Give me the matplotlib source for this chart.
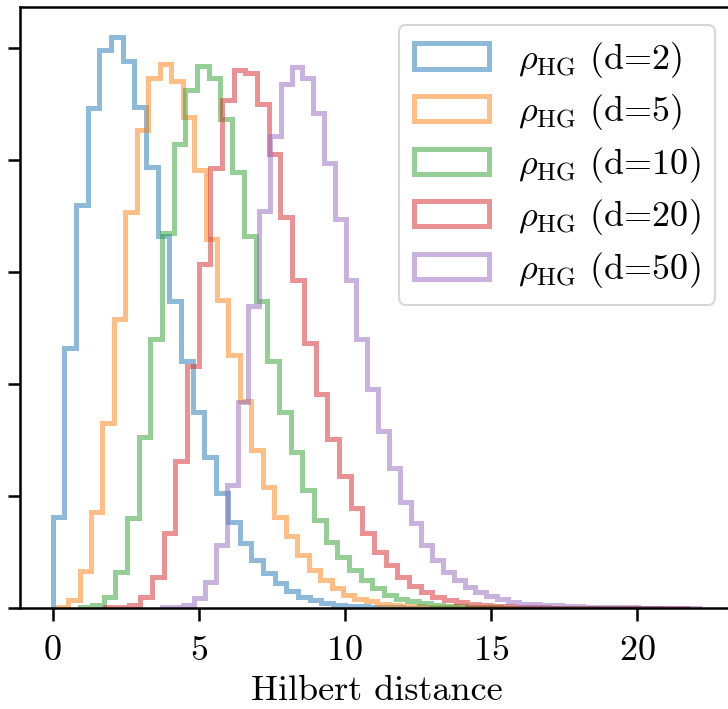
import numpy as np
import matplotlib.pyplot as plt

plt.rcParams['font.family'] = 'serif'
plt.rcParams['font.serif'] = ['cmr10']
plt.rcParams['mathtext.fontset'] = 'cm'
plt.rcParams['axes.formatter.use_mathtext'] = True
plt.rcParams['font.size'] = 26

labels = [r'$\rho_{\rm HG}$ (d=2)', r'$\rho_{\rm HG}$ (d=5)', r'$\rho_{\rm HG}$ (d=10)',
          r'$\rho_{\rm HG}$ (d=20)', r'$\rho_{\rm HG}$ (d=50)']

# each histogram has 50 bins over its own range
bin_start = [0.0, 0.14, 0.946, 1.8, 3.74]
bin_width = [0.4, 0.392, 0.4, 0.4, 0.37]

# bar heights (density, in units of one y tick)
d2 = [0.815, 2.32, 3.60, 4.47, 4.99, 5.10, 4.89, 4.48, 3.94, 3.32,
      2.74, 2.21, 1.75, 1.35, 1.03, 0.77, 0.58, 0.43, 0.31, 0.22,
      0.15, 0.10, 0.07, 0.045, 0.03, 0.02, 0.015, 0.01, 0.008, 0.006,
      0.004, 0.003, 0.002, 0.0015, 0.001, 0.0008, 0.0006, 0.0004, 0.0003, 0.0002,
      0.0002, 0.0001, 0.0001, 0.0001, 0.0, 0.0, 0.0001, 0.0, 0.0, 0.0001]
d5 = [0.01, 0.07, 0.33, 0.86, 1.65, 2.58, 3.54, 4.27, 4.74, 4.86,
      4.71, 4.39, 3.91, 3.30, 2.75, 2.26, 1.85, 1.41, 1.08, 0.815,
      0.64, 0.47, 0.34, 0.25, 0.18, 0.116, 0.08, 0.06, 0.04, 0.03,
      0.02, 0.015, 0.01, 0.007, 0.005, 0.004, 0.003, 0.002, 0.0015, 0.001,
      0.0008, 0.0006, 0.0004, 0.0003, 0.0002, 0.0001, 0.0001, 0.0, 0.0, 0.0001]
d10 = [0.01, 0.03, 0.10, 0.32, 0.80, 1.53, 2.40, 3.35, 4.15, 4.63,
       4.84, 4.74, 4.37, 3.90, 3.32, 2.74, 2.21, 1.75, 1.39, 1.05,
       0.79, 0.59, 0.46, 0.34, 0.25, 0.18, 0.12, 0.08, 0.06, 0.045,
       0.03, 0.02, 0.015, 0.01, 0.007, 0.005, 0.004, 0.003, 0.002, 0.0015,
       0.001, 0.0008, 0.0005, 0.0003, 0.0002, 0.0001, 0.0001, 0.0, 0.0, 0.0001]
d20 = [0.005, 0.01, 0.03, 0.10, 0.28, 0.67, 1.31, 2.16, 3.07, 3.93,
       4.54, 4.81, 4.78, 4.50, 4.06, 3.49, 2.93, 2.37, 1.91, 1.51,
       1.18, 0.89, 0.67, 0.50, 0.38, 0.28, 0.20, 0.146, 0.10, 0.07,
       0.05, 0.04, 0.03, 0.02, 0.014, 0.01, 0.007, 0.005, 0.0035, 0.0025,
       0.0018, 0.0012, 0.0008, 0.0005, 0.0003, 0.0002, 0.0001, 0.0001, 0.0, 0.0001]
d50 = [0.005, 0.01, 0.03, 0.09, 0.23, 0.56, 1.10, 1.84, 2.70, 3.55,
       4.22, 4.68, 4.83, 4.74, 4.42, 3.98, 3.48, 2.93, 2.40, 1.96,
       1.58, 1.25, 0.95, 0.76, 0.56, 0.43, 0.32, 0.25, 0.19, 0.146,
       0.11, 0.08, 0.05, 0.04, 0.04, 0.027, 0.027, 0.02, 0.015, 0.012,
       0.01, 0.008, 0.006, 0.005, 0.004, 0.003, 0.002, 0.0015, 0.001, 0.001]

hists = [d2, d5, d10, d20, d50]

fig = plt.figure(figsize=(7.28, 7.09), dpi=100)
ax = fig.add_axes([20.4/728, 101/709, 713/728, 601/709])

for i, h in enumerate(hists):
    edges = bin_start[i] + bin_width[i]*np.arange(len(h)+1)
    centers = 0.5*(edges[:-1] + edges[1:])
    ax.hist(centers, bins=edges, weights=h, histtype='step',
            lw=3.6, alpha=0.5, label=labels[i])

ax.set_xlim(-1.1, 23.3)
ax.set_ylim(0, 5.37)
ax.set_yticks(range(6))
ax.set_yticklabels([])
ax.set_xticks([0, 5, 10, 15, 20])
ax.set_xlabel('Hilbert distance', labelpad=6)
ax.tick_params(width=1.8, length=9)
ax.tick_params(axis='x', pad=11)
for s in ax.spines.values():
    s.set_linewidth(1.8)
leg = ax.legend(loc='upper right', labelspacing=0.35, handlelength=2.1)
leg.get_frame().set_linewidth(1.5)

fig.savefig('out.png')
